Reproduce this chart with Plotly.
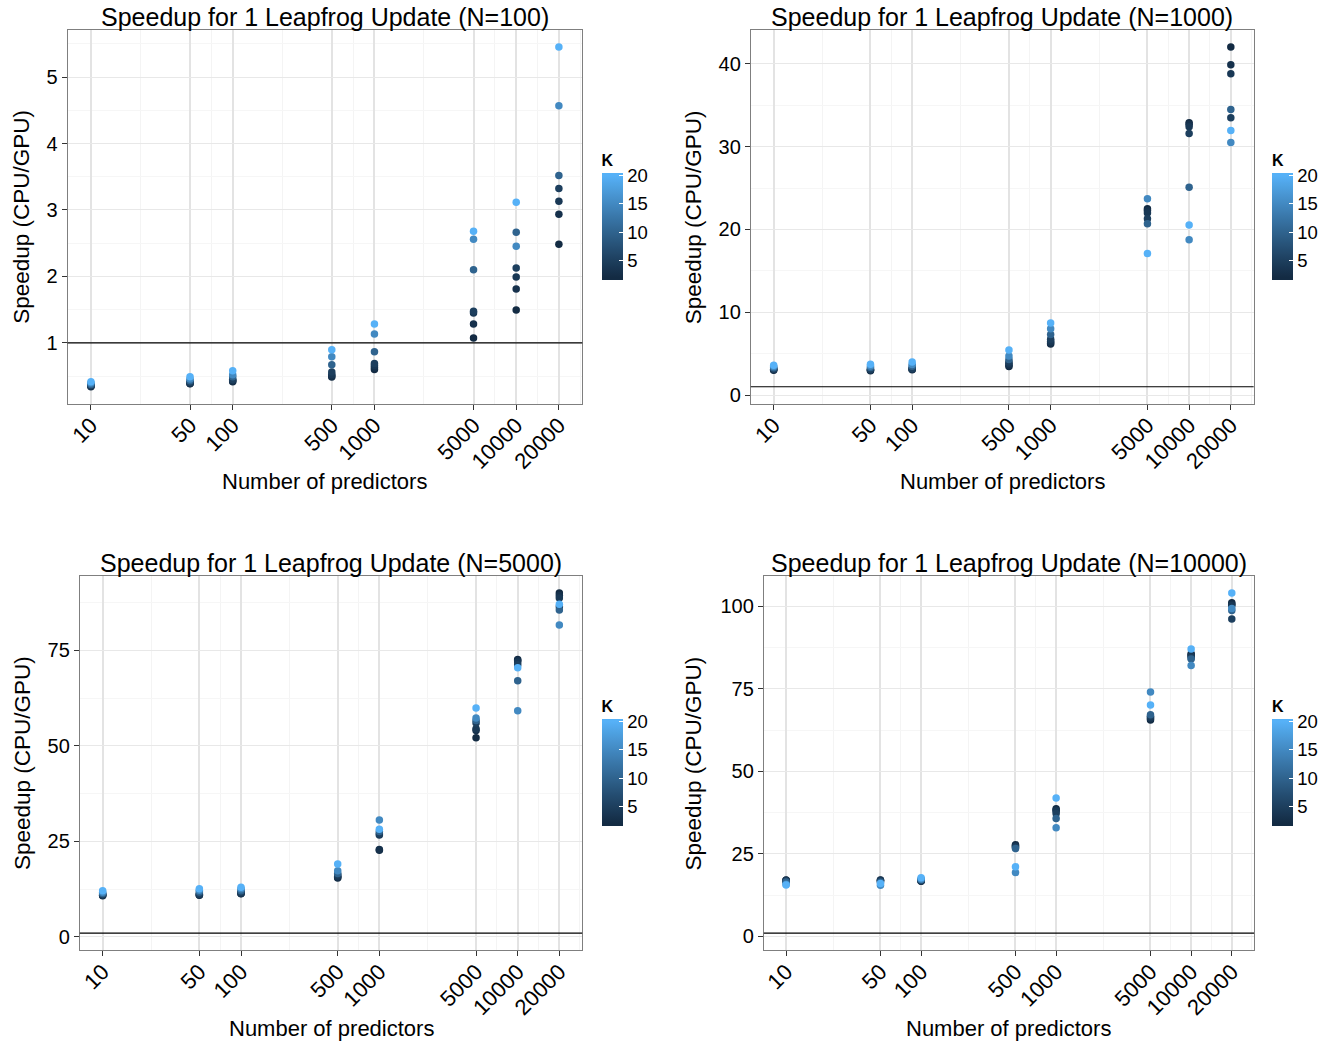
import plotly.graph_objects as go

# ---------------- data ----------------
P = [10, 50, 100, 500, 1000, 5000, 10000, 20000]
P_labels = ["10", "50", "100", "500", "1000", "5000", "10000", "20000"]
K = [2, 3, 4, 5, 10, 15, 20]
N_values = [100, 1000, 5000, 10000]

# rows follow P, columns follow K
speedup_N100 = [
    [0.340, 0.350, 0.355, 0.360, 0.375, 0.395, 0.415],
    [0.385, 0.390, 0.400, 0.405, 0.430, 0.455, 0.490],
    [0.415, 0.425, 0.440, 0.450, 0.490, 0.520, 0.580],
    [0.485, 0.500, 0.525, 0.560, 0.670, 0.790, 0.895],
    [0.600, 0.630, 0.660, 0.690, 0.865, 1.135, 1.285],
    [1.075, 1.285, 1.450, 1.475, 2.100, 2.560, 2.680],
    [1.495, 1.810, 1.990, 2.125, 2.665, 2.455, 3.115],
    [2.485, 2.935, 3.130, 3.325, 3.520, 4.570, 5.455],
]
speedup_N1000 = [
    [3.00, 3.05, 3.10, 3.15, 3.29, 3.45, 3.60],
    [2.93, 3.00, 3.05, 3.10, 3.32, 3.50, 3.72],
    [3.05, 3.10, 3.15, 3.20, 3.48, 3.70, 4.00],
    [3.45, 3.60, 3.80, 4.00, 4.30, 4.70, 5.45],
    [6.15, 6.30, 6.50, 6.75, 7.30, 8.00, 8.70],
    [22.5, 22.3, 22.0, 21.3, 20.7, 23.7, 17.1],
    [32.9, 32.7, 32.4, 31.6, 25.1, 18.75, 20.55],
    [42.05, 39.9, 38.8, 33.5, 34.5, 30.5, 31.95],
]
speedup_N5000 = [
    [10.8, 10.9, 11.0, 11.1, 11.4, 11.7, 12.1],
    [10.9, 11.0, 11.1, 11.3, 11.8, 12.2, 12.6],
    [11.3, 11.4, 11.5, 11.7, 12.1, 12.6, 13.0],
    [15.4, 15.6, 15.9, 16.3, 16.6, 17.35, 19.1],
    [22.7, 22.9, 26.7, 27.0, 27.6, 30.6, 28.2],
    [52.1, 54.0, 54.5, 56.0, 56.6, 57.3, 59.9],
    [72.6, 72.3, 71.9, 71.2, 67.0, 59.2, 70.4],
    [90.0, 89.3, 88.7, 86.4, 85.5, 81.6, 87.05],
]
speedup_N10000 = [
    [17.1, 17.0, 16.9, 16.8, 16.5, 15.8, 15.6],
    [17.1, 17.0, 16.9, 16.8, 16.4, 15.5, 16.0],
    [16.7, 16.8, 16.9, 17.0, 17.2, 17.4, 17.8],
    [27.8, 27.5, 27.2, 26.9, 26.6, 19.35, 21.1],
    [38.7, 38.3, 38.0, 37.2, 35.7, 32.9, 41.9],
    [65.5, 65.9, 66.3, 66.7, 67.1, 74.0, 70.1],
    [85.6, 85.2, 84.9, 84.4, 84.0, 82.0, 87.0],
    [101.0, 100.6, 100.2, 96.1, 98.7, 99.3, 104.0],
]
panel_data = [speedup_N100, speedup_N1000, speedup_N5000, speedup_N10000]

y_ticks = [[1, 2, 3, 4, 5], [0, 10, 20, 30, 40], [0, 25, 50, 75], [0, 25, 50, 75, 100]]
y_minor = [[0.5, 1.5, 2.5, 3.5, 4.5, 5.5], [5, 15, 25, 35], [12.5, 37.5, 62.5, 87.5],
           [12.5, 37.5, 62.5, 87.5]]
y_ranges = [[0.084, 5.71], [-1.05, 44.1], [-3.45, 94.45], [-4.15, 109.15]]
x_minor = [22.36, 70.71, 223.6, 707.1, 2236, 7071, 14142, 28184]

# ---------------- colour scale (ggplot default gradient, Lab interpolation) ----------------
def hex_to_rgb(h):
    h = h.lstrip('#')
    return [int(h[i:i + 2], 16) for i in (0, 2, 4)]

def rgb_to_lab(rgb):
    def lin(c):
        c = c / 255.0
        return c / 12.92 if c <= 0.04045 else ((c + 0.055) / 1.055) ** 2.4
    r, g, b = [lin(c) for c in rgb]
    X = 0.4124564 * r + 0.3575761 * g + 0.1804375 * b
    Y = 0.2126729 * r + 0.7151522 * g + 0.0721750 * b
    Z = 0.0193339 * r + 0.1191920 * g + 0.9503041 * b
    d = 6 / 29
    def f(t):
        return t ** (1 / 3) if t > d ** 3 else t / (3 * d * d) + 4 / 29
    fx, fy, fz = f(X / 0.95047), f(Y / 1.0), f(Z / 1.08883)
    return [116 * fy - 16, 500 * (fx - fy), 200 * (fy - fz)]

def lab_to_hex(lab):
    L, a, b = lab
    fy = (L + 16) / 116
    fx = fy + a / 500
    fz = fy - b / 200
    d = 6 / 29
    def finv(t):
        return t ** 3 if t > d else 3 * d * d * (t - 4 / 29)
    X, Y, Z = 0.95047 * finv(fx), 1.0 * finv(fy), 1.08883 * finv(fz)
    r = 3.2404542 * X - 1.5371385 * Y - 0.4985314 * Z
    g = -0.9692660 * X + 1.8760108 * Y + 0.0415560 * Z
    bb = 0.0556434 * X - 0.2040259 * Y + 1.0572252 * Z
    def gam(c):
        c = max(0.0, min(1.0, c))
        c = 12.92 * c if c <= 0.0031308 else 1.055 * c ** (1 / 2.4) - 0.055
        return int(round(c * 255))
    return '#%02x%02x%02x' % (gam(r), gam(g), gam(bb))

low_lab = rgb_to_lab(hex_to_rgb('#132B43'))
high_lab = rgb_to_lab(hex_to_rgb('#56B1F7'))

def grad(t):
    t = max(0.0, min(1.0, t))
    return lab_to_hex([low_lab[i] + (high_lab[i] - low_lab[i]) * t for i in range(3)])

kmin, kmax = min(K), max(K)
half_bin = 0.5 * (kmax - kmin) / 19
cmin, cmax = kmin - half_bin, kmax + half_bin
colorscale = []
nstops = 40
for i in range(nstops + 1):
    pos = i / nstops
    v = cmin + pos * (cmax - cmin)
    colorscale.append([pos, grad((v - kmin) / (kmax - kmin))])

# ---------------- layout geometry (pixels) ----------------
W, H = 1335, 1047
panels = [
    dict(x0=66.6, x1=581.7, y0=30, y1=404.5, cb_x=601, cb_yb=280.5),
    dict(x0=750.4, x1=1253.6, y0=30, y1=404.5, cb_x=1272, cb_yb=280.5),
    dict(x0=78.9, x1=581.6, y0=577, y1=952, cb_x=601, cb_yb=827.5),
    dict(x0=763.4, x1=1254.0, y0=577, y1=952, cb_x=1272, cb_yb=827.5),
]
BAR_LEN = 107.5
TITLE_ROOM = 21

FONT = "Liberation Sans, Arial, Helvetica, sans-serif"
fig = go.Figure()
layout = dict(
    width=W, height=H, margin=dict(l=0, r=0, t=0, b=0),
    paper_bgcolor='white', plot_bgcolor='white', showlegend=False,
    font=dict(family=FONT, color='black'), hovermode=False,
)
annotations = []
shapes = []

for i, (pan, data, N) in enumerate(zip(panels, panel_data, N_values)):
    sfx = '' if i == 0 else str(i + 1)
    xa, ya, ca = 'xaxis' + sfx, 'yaxis' + sfx, 'coloraxis' + sfx
    xs, ys, cs = [], [], []
    for pi, p in enumerate(P):
        for ki, k in enumerate(K):
            xs.append(p)
            ys.append(data[pi][ki])
            cs.append(k)
    fig.add_trace(go.Scatter(
        x=xs, y=ys, mode='markers', xaxis='x' + sfx, yaxis='y' + sfx,
        marker=dict(size=7.5, color=cs, coloraxis=ca, line=dict(width=0)),
    ))
    dx = [pan['x0'] / W, pan['x1'] / W]
    dy = [1 - pan['y1'] / H, 1 - pan['y0'] / H]
    layout[xa] = dict(
        domain=dx, anchor='y' + sfx, type='log', range=[0.835, 4.466],
        tickvals=P, ticktext=P_labels, tickangle=-45,
        tickfont=dict(size=22, color='black', family=FONT),
        ticks='outside', ticklen=5, tickwidth=1, tickcolor='#333333',
        ticklabelstandoff=-6,
        showgrid=True, gridcolor='#E3E3E3', gridwidth=1.6,
        minor=dict(tickvals=x_minor, showgrid=True, gridcolor='#F4F4F4', gridwidth=1, ticks=''),
        showline=True, linecolor='#7F7F7F', linewidth=1, mirror=True, zeroline=False,
    )
    layout[ya] = dict(
        domain=dy, anchor='x' + sfx, range=y_ranges[i],
        tickvals=y_ticks[i], ticktext=[str(v) for v in y_ticks[i]],
        tickfont=dict(size=20, color='black', family=FONT),
        ticks='outside', ticklen=5, tickwidth=1, tickcolor='#333333',
        showgrid=True, gridcolor='#E8E8E8', gridwidth=1.2,
        minor=dict(tickvals=y_minor[i], showgrid=True, gridcolor='#F6F6F6', gridwidth=1, ticks=''),
        showline=True, linecolor='#7F7F7F', linewidth=1, mirror=True, zeroline=False,
    )
    layout[ca] = dict(
        cmin=cmin, cmax=cmax, colorscale=colorscale,
        colorbar=dict(
            x=pan['cb_x'] / W, xanchor='left', y=1 - pan['cb_yb'] / H, yanchor='bottom',
            lenmode='pixels', len=BAR_LEN + TITLE_ROOM, thickness=21, thicknessmode='pixels',
            xpad=0, ypad=0, outlinewidth=0,
            tickvals=[5, 10, 15, 20], ticktext=['5', '10', '15', '20'],
            ticks='inside', ticklen=4, tickcolor='white', tickwidth=1,
            tickfont=dict(size=18.5, color='black', family=FONT),
            title=dict(text='<b>K</b>', side='top', font=dict(size=16, color='black', family=FONT)),
        ),
    )
    shapes.append(dict(type='line', xref='x' + sfx + ' domain', yref='y' + sfx,
                       x0=0, x1=1, y0=1, y1=1, line=dict(color='black', width=1.1), layer='above'))
    cx = (pan['x0'] + pan['x1']) / 2 / W
    annotations.append(dict(
        text='Speedup for 1 Leapfrog Update (N=%d)' % N, xref='paper', yref='paper',
        x=cx, y=1 - (pan['y0'] - 13) / H, xanchor='center', yanchor='middle',
        showarrow=False, font=dict(size=25, color='black', family=FONT)))
    annotations.append(dict(
        text='Number of predictors', xref='paper', yref='paper',
        x=cx, y=1 - (pan['y1'] + 78) / H, xanchor='center', yanchor='middle',
        showarrow=False, font=dict(size=22, color='black', family=FONT)))
    annotations.append(dict(
        text='Speedup (CPU/GPU)', xref='paper', yref='paper',
        x=(21 if i % 2 == 0 else 693) / W, y=1 - (pan['y0'] + pan['y1']) / 2 / H,
        xanchor='center', yanchor='middle', textangle=-90,
        showarrow=False, font=dict(size=22.5, color='black', family=FONT)))

layout['annotations'] = annotations
layout['shapes'] = shapes
fig.update_layout(**layout)
fig.write_html("out.html")
